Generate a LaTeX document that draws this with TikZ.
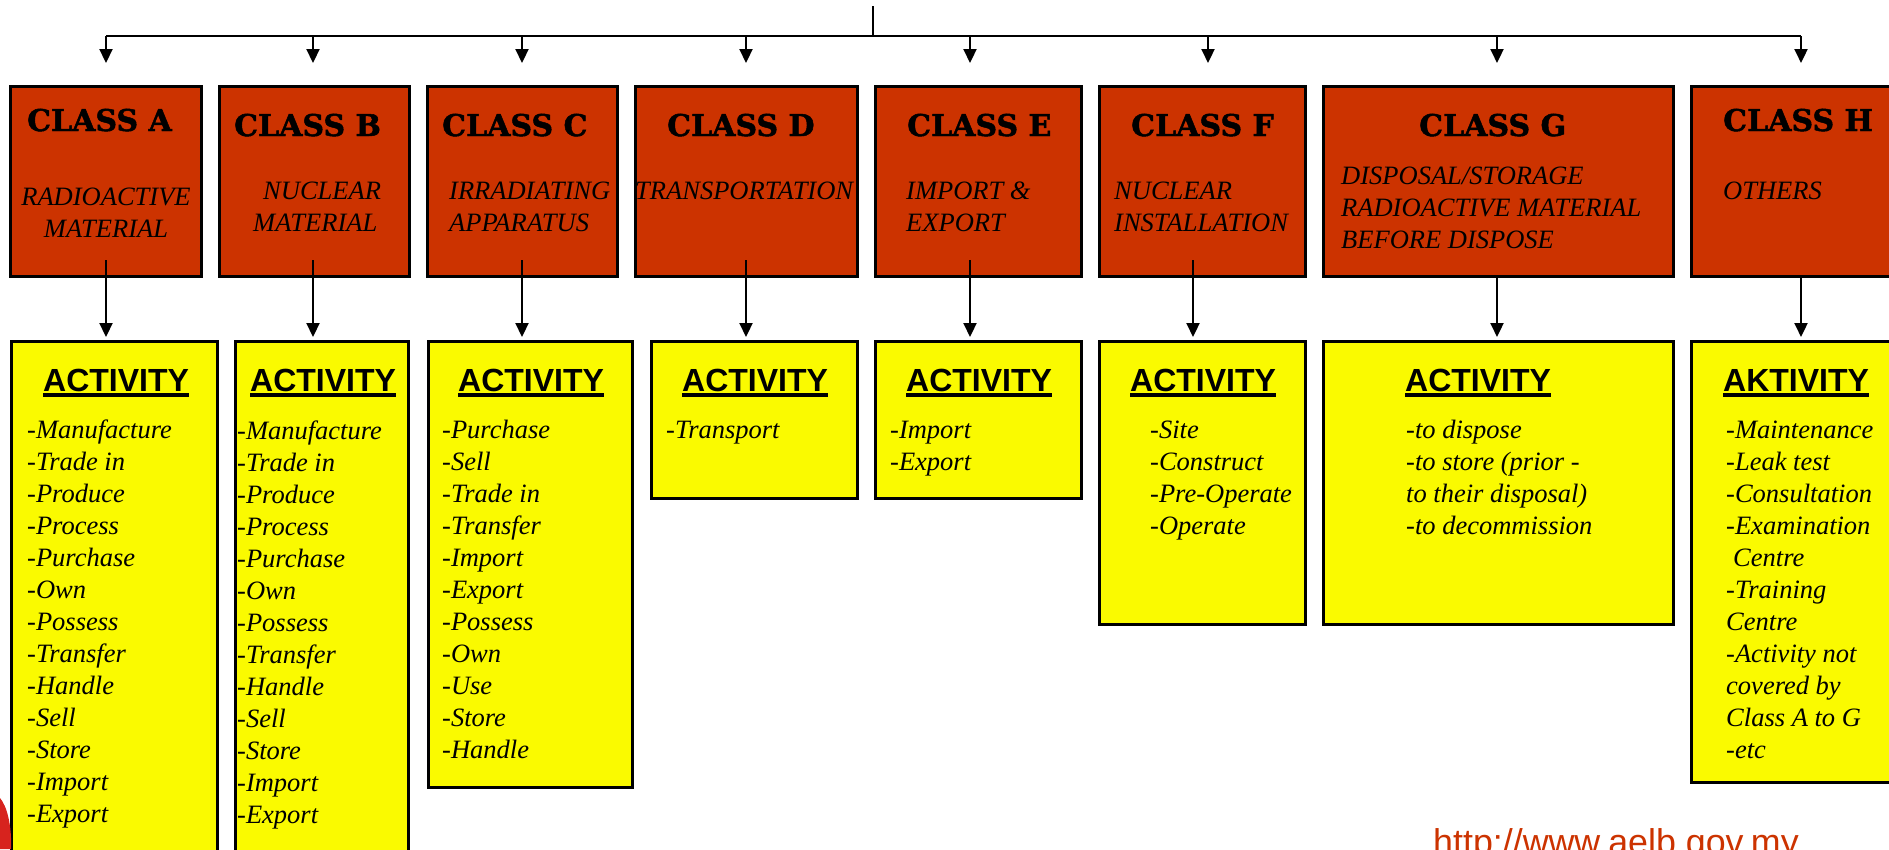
\documentclass[tikz,border=0pt]{standalone}
\usepackage{fontspec}
\setmainfont{Liberation Serif}
\newfontfamily\headfont{DejaVu Serif Bold}[FakeBold=1.6]
\newfontfamily\actfont{Liberation Sans}
\usetikzlibrary{arrows.meta,calc}
\definecolor{classred}{RGB}{204,51,0}
\definecolor{actyellow}{RGB}{250,250,0}
\definecolor{urlred}{RGB}{204,51,0}
\definecolor{logored}{RGB}{215,35,30}

% one text line per node, 32pt apart
\newcommand{\itemlist}[4]{%
  \foreach \t [count=\i] in {#4}
    \node[item] (#1-\i) at (#2,{#3+32*(\i-1)}) {\t};}

\begin{document}
\begin{tikzpicture}[x=1pt,y=-1pt,
    clsbox/.style={draw,line width=3pt,fill=classred,minimum height=190pt,inner sep=0pt},
    actbox/.style={draw,line width=3pt,fill=actyellow,inner sep=0pt},
    clshead/.style={anchor=base west,inner sep=0pt,font=\headfont\fontsize{30}{36}\selectfont},
    acthead/.style={anchor=base west,inner sep=0pt,font=\actfont\bfseries\fontsize{32}{38}\selectfont},
    item/.style={anchor=base west,inner sep=0pt,font=\itshape\fontsize{26.5}{32}\selectfont},
    uline/.style={line width=3.5pt},
    conn/.style={line width=2.2pt,-{Triangle[length=14pt,width=13pt]}}]

  \clip (0,0) rectangle (1889,849);

  % class boxes
  \foreach \n/\xa/\xb in {A/10/201,B/219/409,C/427/617,D/635/857,
                          E/875/1081,F/1099/1305,G/1323/1673,H/1691/1910}
    \node[clsbox,minimum width={\xb-\xa}] (cls\n) at ({(\xa+\xb)/2},181) {};

  % activity boxes
  \foreach \n/\xa/\xb/\yb in {A/11/217/880,B/235/408/880,C/428/632/787,D/651/857/498,
                              E/875/1081/498,F/1099/1305/624,G/1323/1673/624,H/1691/1910/782}
    \node[actbox,minimum width={\xb-\xa},minimum height={\yb-341}] (act\n)
      at ({(\xa+\xb)/2},{(341+\yb)/2}) {};

  % connectors
  \coordinate (root) at (873,6);
  \coordinate (rootbus) at (873,36);
  \draw[line width=2.2pt] (root) -- (rootbus);
  \foreach \n/\xa/\xb/\ys in {A/106/106/260,B/313/313/260,C/522/522/260,D/746/746/260,
                              E/970/970/260,F/1208/1193/260,G/1497/1497/276,H/1801/1801/276}{
    \coordinate (bus\n) at (\xa,36);
    \coordinate (tip\n) at (\xa,63);
    \draw[conn] (bus\n) -- (tip\n);
    \coordinate (from\n) at (\xb,\ys);
    \coordinate (to\n) at (\xb,337);
    \draw[conn] (from\n) -- (to\n);
  }
  \draw[line width=2.2pt] (busA) -- (busH);

  % class headings
  \foreach \n/\x/\y in {A/27/131,B/234/136,C/442/136,D/667/136,
                        E/907/136,F/1131/136,G/1419/136,H/1723/131}
    \node[clshead] (clsh\n) at (\x,\y) {CLASS \n};

  \node[item,anchor=base] (subA-1) at (106,205) {RADIOACTIVE};
  \node[item,anchor=base] (subA-2) at (106,237) {MATERIAL};
  \node[item] (subB-1) at (263,199) {NUCLEAR};
  \node[item] (subB-2) at (253,231) {MATERIAL};
  \itemlist{subC}{449}{199}{IRRADIATING,APPARATUS}
  \node[item] (subD-1) at (635,199) {TRANSPORTATION};
  \itemlist{subE}{906}{199}{IMPORT \&,EXPORT}
  \itemlist{subF}{1114}{199}{NUCLEAR,INSTALLATION}
  \itemlist{subG}{1341}{184}{DISPOSAL/STORAGE,RADIOACTIVE MATERIAL,BEFORE DISPOSE}
  \node[item] (subH-1) at (1723,199) {OTHERS};

  % activity headings
  \foreach \n/\x in {A/43,B/250,C/458,D/682,E/906,F/1130,G/1405}
    \node[acthead] (acth\n) at (\x,391) {ACTIVITY};
  \node[acthead] (acthH) at (1723,391) {AKTIVITY};
  \foreach \n in {A,B,C,D,E,F,G,H}
    \draw[uline] ([yshift=-4pt]acth\n.base west) -- ([yshift=-4pt]acth\n.base east);

  % activity lists
  \itemlist{itA}{27}{438}{-Manufacture,-Trade in,-Produce,-Process,-Purchase,-Own,
    -Possess,-Transfer,-Handle,-Sell,-Store,-Import,-Export}
  \itemlist{itB}{237}{439}{-Manufacture,-Trade in,-Produce,-Process,-Purchase,-Own,
    -Possess,-Transfer,-Handle,-Sell,-Store,-Import,-Export}
  \itemlist{itC}{442}{438}{-Purchase,-Sell,-Trade in,-Transfer,-Import,-Export,
    -Possess,-Own,-Use,-Store,-Handle}
  \itemlist{itD}{666}{438}{-Transport}
  \itemlist{itE}{890}{438}{-Import,-Export}
  \itemlist{itF}{1150}{438}{-Site,-Construct,-Pre-Operate,-Operate}
  \itemlist{itG}{1406}{438}{-to dispose,-to store (prior -,to their disposal),-to decommission}
  \itemlist{itH}{1726}{438}{-Maintenance,-Leak test,-Consultation,-Examination,
    \hspace{7pt}Centre,-Training,Centre,-Activity not,covered by,Class A to G,-etc}

  % footer
  \node[anchor=base west,inner sep=0pt,text=urlred,
        font=\actfont\fontsize{35.8}{40}\selectfont] (url) at (1433,854) {http://www.aelb.gov.my};
  \fill[logored] (0,798) .. controls (7,806) and (12,826) .. (11,849) -- (0,849) -- cycle;
\end{tikzpicture}
\end{document}
